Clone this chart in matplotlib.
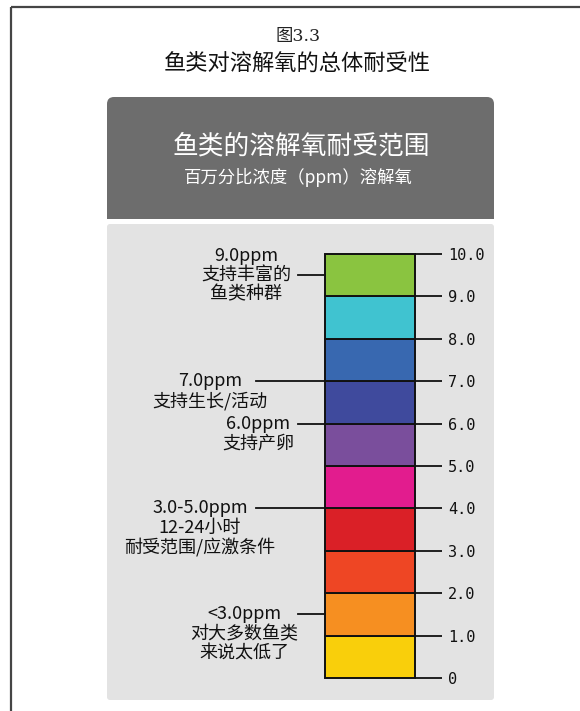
import matplotlib
matplotlib.use("Agg")
import matplotlib.pyplot as plt
from matplotlib.patches import FancyBboxPatch, Rectangle
from matplotlib.transforms import blended_transform_factory

# ---------------- data ----------------
band_bottoms = [0, 1, 2, 3, 4, 5, 6, 7, 8, 9]
band_heights = [1, 1, 1, 1, 1, 1, 1, 1, 1, 1]
band_colors = ["#F9CF0B", "#F68F21", "#EE4624", "#DA2027", "#E21C8E",
               "#7A4E9C", "#3F4A9D", "#3868B0", "#40C3D0", "#8AC440"]
tick_values = [0, 1, 2, 3, 4, 5, 6, 7, 8, 9, 10]
tick_labels = ["0", "1.0", "2.0", "3.0", "4.0", "5.0", "6.0", "7.0", "8.0", "9.0", "10.0"]

note_levels = [9.5, 7.0, 6.0, 4.0, 1.5]
note_texts = [
    ["9.0ppm", "支持丰富的", "鱼类种群"],
    ["7.0ppm", "支持生长/活动"],
    ["6.0ppm", "支持产卵"],
    ["3.0-5.0ppm", "12-24小时", "耐受范围/应激条件"],
    ["<3.0ppm", "对大多数鱼类", "来说太低了"],
]
note_anchor_line = [1, 0, 0, 0, 0]      # which text line sits on the leader line
note_text_x = [246, 210, 258, 200, 244]  # pixel centre of text block
note_line_x0 = [298, 256, 298, 256, 298]

fig_title_num = "图3.3"
fig_title = "鱼类对溶解氧的总体耐受性"
panel_title = "鱼类的溶解氧耐受范围"
panel_sub = "百万分比浓度（ppm）溶解氧"

CJK = ["Noto Sans CJK SC", "DejaVu Sans"]
plt.rcParams["font.family"] = CJK

W, H = 580, 711
fig = plt.figure(figsize=(W / 100, H / 100), dpi=100)
fig.patch.set_facecolor("white")

bg = fig.add_axes([0, 0, 1, 1])
bg.set_xlim(0, W)
bg.set_ylim(H, 0)
bg.axis("off")

# outer frame (cropped)
bg.plot([11, 11], [H + 5, 7], color="#454545", lw=1.6, solid_capstyle="butt")
bg.plot([11, W + 5], [7, 7], color="#454545", lw=1.6, solid_capstyle="butt")

# titles
bg.text(298, 36, fig_title_num, ha="center", va="center", fontsize=12.5,
        family=["DejaVu Serif", "Noto Sans CJK SC"], color="#222222")
bg.text(297, 63, fig_title, ha="center", va="center", fontsize=16, color="#111111")

# header panel
bg.add_patch(FancyBboxPatch((107, 97), 387, 122,
                            boxstyle="round,pad=0,rounding_size=7",
                            fc="#6D6D6D", ec="none"))
bg.add_patch(Rectangle((107, 150), 387, 69, fc="#6D6D6D", ec="none"))
bg.text(301, 147, panel_title, ha="center", va="center", fontsize=18.5, color="white")
bg.text(298, 177, panel_sub, ha="center", va="center", fontsize=12.5, color="white")

# grey panel
bg.add_patch(FancyBboxPatch((107, 224), 387, 476,
                            boxstyle="round,pad=0,rounding_size=3",
                            fc="#E3E3E3", ec="none"))

# bar axes
bx0, bx1 = 325, 415
by0, by1 = 678, 254
ax = fig.add_axes([bx0 / W, (H - by0) / H, (bx1 - bx0) / W, (by0 - by1) / H])
ax.set_xlim(0, 1)
ax.set_ylim(0, 10)
ax.patch.set_alpha(0)
for s in ax.spines.values():
    s.set_visible(False)
bars = ax.bar(0.5, band_heights, bottom=band_bottoms, width=1.0,
              color=band_colors, edgecolor="#111111", linewidth=1.4)
for b in bars:
    b.set_clip_on(False)
ax.set_xticks([])
ax.yaxis.tick_right()
ax.set_yticks(tick_values)
ax.set_yticklabels(tick_labels, family=["DejaVu Sans Mono", "Noto Sans CJK SC"],
                   fontsize=11, color="#111111")
ax.tick_params(axis="y", length=27 * 0.72, width=1.3, pad=6 * 0.72, colors="#111111",
               labelcolor="#111111")

# annotations
tr = blended_transform_factory(bg.transData, ax.transData)
px_per_unit = (by0 - by1) / 10.0
line_h = 19.5
for lvl, lines, anch, tx, lx0 in zip(note_levels, note_texts, note_anchor_line,
                                     note_text_x, note_line_x0):
    ax.plot([lx0, bx0], [lvl, lvl], transform=tr, color="#111111", lw=1.3,
            clip_on=False)
    for i, t in enumerate(lines):
        yv = lvl - (i - anch) * line_h / px_per_unit
        ax.text(tx, yv, t, transform=tr, ha="center", va="center",
                fontsize=13, color="#111111", clip_on=False)

fig.savefig("out.png", dpi=100)
